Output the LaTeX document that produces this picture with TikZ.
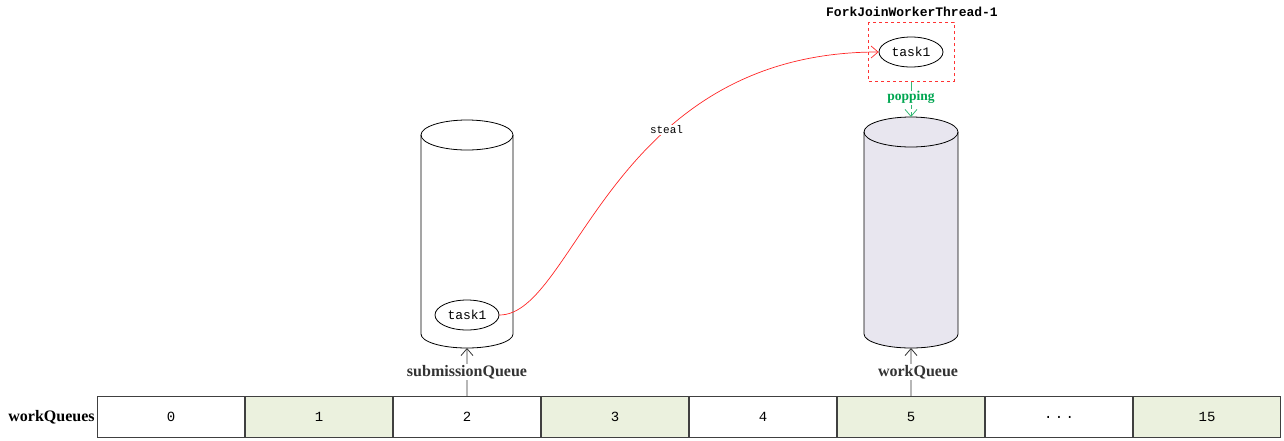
\documentclass[tikz,border=0pt]{standalone}
\usepackage{fontspec}
\setmainfont{Liberation Serif}
\setmonofont{Liberation Mono}
\usepackage{tikz}
\usetikzlibrary{arrows.meta,positioning,shapes.geometric}

\definecolor{cellgreen}{HTML}{EBF1DE}
\definecolor{queuegray}{HTML}{E8E6EF}
\definecolor{popgreen}{HTML}{00A651}

\begin{document}
\begin{tikzpicture}[x=1pt,y=-1pt,>={Straight Barb[length=7pt,width=12pt]},line width=0.8pt]
	\tikzstyle{cell}=[rectangle, draw=black!75, minimum width=147.2pt, minimum height=41.2pt, inner sep=0pt, font=\ttfamily\fontsize{14}{14}\selectfont]
	\tikzstyle{shaded}=[cell, fill=cellgreen]
	\tikzstyle{task}=[ellipse, draw, minimum width=64pt, minimum height=30pt, inner sep=0pt, font=\ttfamily\fontsize{13}{13}\selectfont]
	\tikzstyle{boldlabel}=[font=\bfseries\fontsize{16}{16}\selectfont, inner sep=1pt]

	\useasboundingbox (0,0) rectangle (1284,440);

	% workQueues array
	\node [cell]   (c0) at (171,417) {0};
	\node [shaded] (c1) [right=0pt of c0] {1};
	\node [cell]   (c2) [right=0pt of c1] {2};
	\node [shaded] (c3) [right=0pt of c2] {3};
	\node [cell]   (c4) [right=0pt of c3] {4};
	\node [shaded] (c5) [right=0pt of c4] {5};
	\node [cell]   (c6) [right=0pt of c5] {.\,.\,.};
	\node [shaded] (c7) [right=0pt of c6] {15};
	\node [boldlabel, left=1pt of c0] (wqs) {workQueues};

	% submissionQueue cylinder
	\draw (421,135) -- (421,334) arc[start angle=180, end angle=0, x radius=46, y radius=14] -- (513,135);
	\draw (467,135) ellipse [x radius=46, y radius=15];
	\coordinate (subbot) at (467,348);
	\node [task] (t1) at (467,315) {task1};

	% workQueue cylinder
	\fill [queuegray] (864,132) -- (864,334) arc[start angle=180, end angle=0, x radius=47, y radius=14] -- (958,132) -- cycle;
	\draw [fill=queuegray] (911,132) ellipse [x radius=47, y radius=15];
	\draw (864,132) -- (864,334) arc[start angle=180, end angle=0, x radius=47, y radius=14] -- (958,132);
	\coordinate (wqtop) at (911,117);
	\coordinate (wqbot) at (911,348);

	% worker thread
	\node [task] (t2) at (911,52) {task1};
	\draw [red!80, dashed, line width=0.6pt] (868,22) rectangle (954,81);
	\coordinate (thrbot) at (911,82);
	\node [font=\ttfamily\bfseries\fontsize{13}{13}\selectfont] (thr) at (912,12) {ForkJoinWorkerThread-1};

	% connectors
	\draw [->, black!80] (c2.north) -- (subbot)
		node [pos=0.5, boldlabel, fill=white] {submissionQueue};
	\draw [->, black!80] (c5.north) -- (wqbot)
		node [pos=0.5, boldlabel, fill=white, xshift=7pt] {workQueue};
	\draw [->, popgreen!80, dashed, dash pattern=on 12pt off 3pt] (thrbot) -- (wqtop)
		node [pos=0.45, boldlabel, fill=white, text=popgreen, font=\bfseries\fontsize{13.5}{13.5}\selectfont] {popping};
	\draw [->, red!85, line width=0.7pt] (t1.east) .. controls (575,315) and (610,52) .. (t2.west)
		node [pos=0.64, fill=white, inner sep=1pt, text=black, font=\ttfamily\fontsize{11}{11}\selectfont] {steal};
\end{tikzpicture}
\end{document}
